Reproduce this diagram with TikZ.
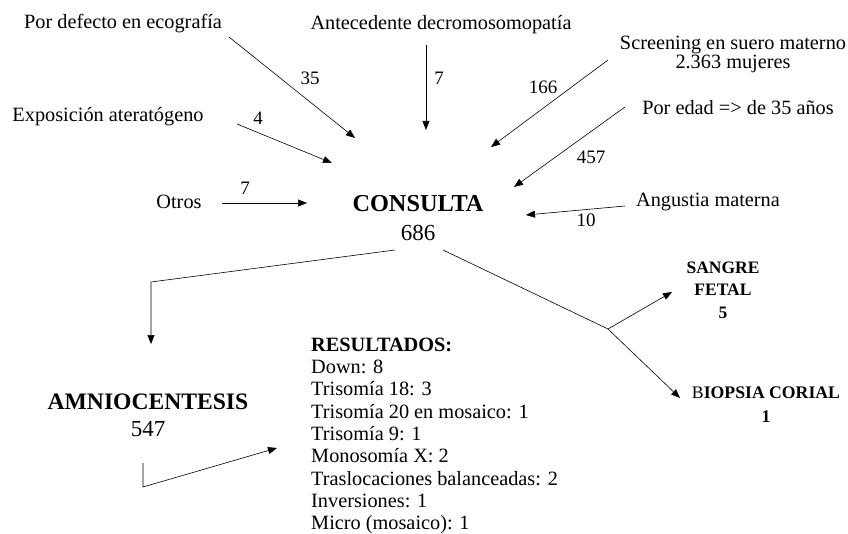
\documentclass[tikz,border=0pt]{standalone}
\usepackage{fontspec}
\setmainfont{Liberation Serif}
\usetikzlibrary{arrows.meta}
\begin{document}
\begin{tikzpicture}[x=1pt,y=-1pt,
  txt/.style={font=\fontsize{20.3}{22}\selectfont, inner sep=0pt},
  num/.style={font=\fontsize{19}{21}\selectfont, inner sep=0pt},
  arr/.style={-{Triangle[length=9pt,width=7pt]}, line width=0.6pt},
  ln/.style={line width=0.6pt}]
\useasboundingbox (0,0) rectangle (848,534);
% source nodes
\node[txt] (n1) at (123,24) {Por defecto en ecografía};
\node[txt] (n2) at (441,25) {Antecedente decromosomopatía};
\node[txt, align=center, font=\fontsize{20.3}{19}\selectfont] (n3) at (733,54) {Screening en suero materno\\2.363 mujeres};
\node[txt] (n4) at (738,108) {Por edad => de 35 años};
\node[txt] (n5) at (108,117) {Exposición ateratógeno};
\node[txt] (n6) at (179,202) {Otros};
\node[txt] (n7) at (708,202) {Angustia materna};
% centre
\node[txt, align=center, font=\fontsize{23}{29}\selectfont] (c) at (418,218) {{\bfseries\fontsize{24.3}{29}\selectfont CONSULTA}\\686};
\node[txt, align=center, font=\bfseries\fontsize{17.5}{22.5}\selectfont] (sf) at (723,290) {SANGRE\\FETAL\\5};
\node[txt, align=center, font=\bfseries\fontsize{17.7}{24}\selectfont] (bc) at (766,405) {{\mdseries B}IOPSIA CORIAL\\1};
\node[txt, align=center, font=\fontsize{23}{27}\selectfont] (am) at (148,415) {{\bfseries\fontsize{23.6}{27}\selectfont AMNIOCENTESIS}\\547};
\node[txt, anchor=west, align=left, font=\fontsize{20.3}{22.3}\selectfont] (res) at (311,436)
 {\textbf{RESULTADOS:}\\Down: 8\\Trisomía 18: 3\\Trisomía 20 en mosaico: 1\\Trisomía 9: 1\\Monosomía X: 2\\Traslocaciones balanceadas: 2\\Inversiones: 1\\Micro (mosaico): 1};
% numbers
\node[num] (k1) at (310,78) {35};
\node[num] (k2) at (439,78) {7};
\node[num] (k3) at (543,87) {166};
\node[num] (k4) at (591,157) {457};
\node[num] (k5) at (258,118) {4};
\node[num] (k6) at (245,188) {7};
\node[num] (k7) at (586,220) {10};
% coordinates
\coordinate (s1) at (229,37);  \coordinate (t1) at (355,138);
\coordinate (s2) at (426,45);  \coordinate (t2) at (426,130);
\coordinate (s3) at (608,60);  \coordinate (t3) at (491,147);
\coordinate (s4) at (625,107); \coordinate (t4) at (514,187);
\coordinate (s5) at (237,124); \coordinate (t5) at (332,163);
\coordinate (s6) at (222,203); \coordinate (t6) at (307,203);
\coordinate (s7) at (625,206); \coordinate (t7) at (526,215);
\coordinate (a1) at (395,250); \coordinate (a2) at (151,282); \coordinate (a3) at (151,344);
\coordinate (b1) at (443,250); \coordinate (bp) at (608,329);
\coordinate (b2) at (672,292); \coordinate (b3) at (680,398);
\coordinate (r1) at (143,463); \coordinate (r2) at (143,487); \coordinate (r3) at (277,448);
% connectors
\draw[arr] (s1) -- (t1);
\draw[arr] (s2) -- (t2);
\draw[arr] (s3) -- (t3);
\draw[arr] (s4) -- (t4);
\draw[arr] (s5) -- (t5);
\draw[arr] (s6) -- (t6);
\draw[arr] (s7) -- (t7);
\draw[arr] (a1) -- (a2) -- (a3);
\draw[ln] (b1) -- (bp);
\draw[arr] (bp) -- (b2);
\draw[arr] (bp) -- (b3);
\draw[arr] (r1) -- (r2) -- (r3);
\end{tikzpicture}
\end{document}
